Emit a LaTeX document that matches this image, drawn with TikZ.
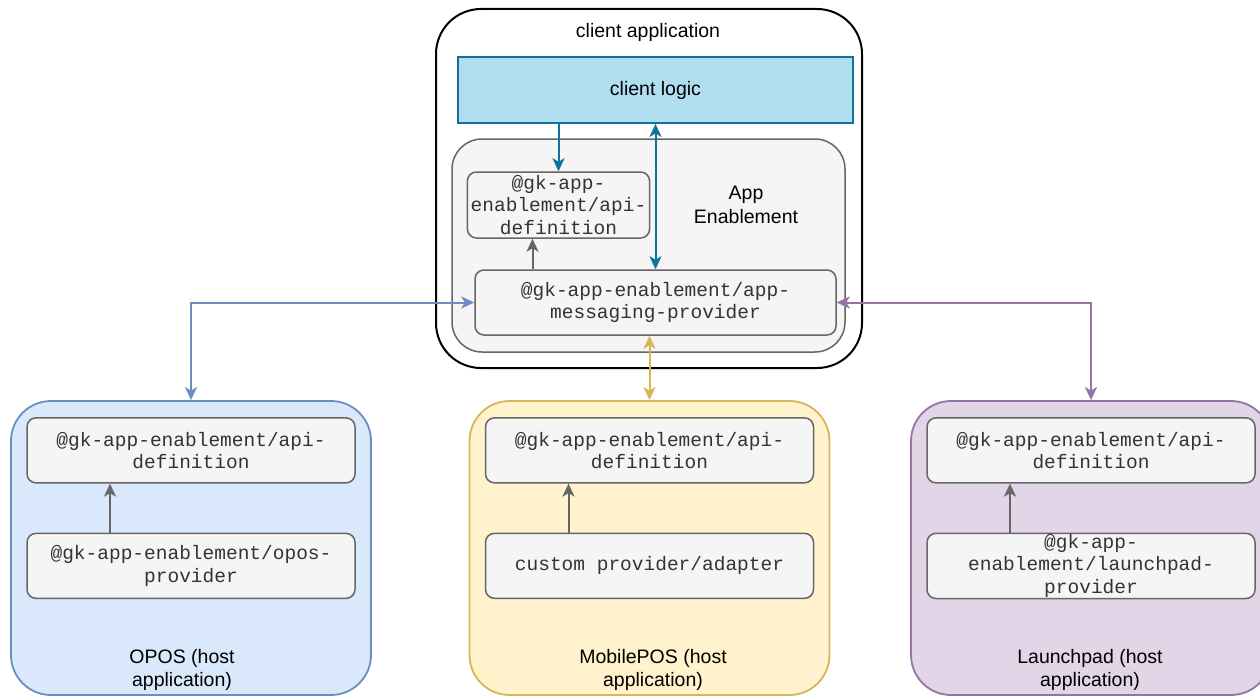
\documentclass[tikz,border=0pt]{standalone}
\usepackage{fontspec}
\setmainfont{Liberation Sans}
\setmonofont{Liberation Mono}
\usepackage{tikz}
\usetikzlibrary{calc,positioning,arrows.meta}

\definecolor{logicfill}{HTML}{B1DDF0}
\definecolor{logicline}{HTML}{10739E}
\definecolor{greyfill}{HTML}{F5F5F5}
\definecolor{greyline}{HTML}{666666}
\definecolor{monotext}{HTML}{333333}
\definecolor{oposfill}{HTML}{DAE8FC}
\definecolor{oposline}{HTML}{6C8EBF}
\definecolor{mposfill}{HTML}{FFF2CC}
\definecolor{mposline}{HTML}{D6B656}
\definecolor{lpadfill}{HTML}{E1D5E7}
\definecolor{lpadline}{HTML}{9673A6}

\begin{document}
\begin{tikzpicture}[x=1pt, y=-1pt,
        font=\fontsize{19.5}{23.5}\selectfont,
        >={Stealth[length=13pt,width=12pt,inset=3.5pt]},
        apibox/.style={rectangle, rounded corners=9pt, draw=greyline, fill=greyfill, line width=1.5pt,
            minimum width=328pt, minimum height=65pt, inner ysep=1pt, align=center, text=monotext,
            font=\ttfamily\fontsize{19.5}{22.5}\selectfont},
        hostbox/.style={rectangle, rounded corners=40pt, line width=1.8pt,
            minimum width=360pt, minimum height=294pt},
        link/.style={<->, line width=2pt},
        garrow/.style={->, line width=2pt, draw=greyline}]
        \useasboundingbox (0,0) rectangle (1260,698);
        \clip (0,0) rectangle (1260,698);

        % Client application
        \node[rectangle, rounded corners=45pt, draw=black, fill=white, line width=2pt,
            minimum width=426pt, minimum height=359pt] (CA) at (649,188.5) {};
        \node (CAtitle) at (648,32) {client application};
        \node[rectangle, draw=logicline, fill=logicfill, line width=1.8pt,
            minimum width=395pt, minimum height=66pt] (CL) at (655.5,90) {client logic};

        % App Enablement
        \node[rectangle, rounded corners=30pt, draw=greyline, fill=greyfill, line width=1.5pt,
            minimum width=393pt, minimum height=213pt] (AE) at (648.5,245.5) {};
        \node[align=center] (AEtitle) at (746,205) {App\\Enablement};
        \node[apibox, minimum width=181pt, minimum height=66pt] (A0) at (558.5,205)
            {@gk-app-\\enablement/api-\\definition};
        \node[apibox, minimum width=361pt] (M) at (655.5,302.5)
            {@gk-app-enablement/app-\\messaging-provider};

        % Host applications
        \foreach \n/\cx/\lx/\fc/\dc/\txt in {1/191/182/oposfill/oposline/OPOS,
                2/649.5/653/mposfill/mposline/MobilePOS,
                3/1091/1090/lpadfill/lpadline/Launchpad} {
            \node[hostbox, fill=\fc, draw=\dc] (H\n) at (\cx,548) {};
            \node[apibox, below=17pt of H\n.north] (A\n) {@gk-app-enablement/api-\\definition};
            \node[align=center] (L\n) at (\lx,670) {\txt{} (host\\application)};
        }
        \node[apibox, below=49pt of A1] (P1) {@gk-app-enablement/opos-\\provider};
        \node[apibox, below=49pt of A2] (P2) {custom provider/adapter};
        \node[apibox, below=49pt of A3] (P3) {@gk-app-\\enablement/launchpad-\\provider};

        % Connections
        \draw[->, line width=2pt, draw=logicline] (A0.north |- CL.south) -- (A0.north);
        \draw[link, draw=logicline] (CL.south) -- (M.north);
        \coordinate (g0) at ([xshift=-26pt]A0.south);
        \draw[garrow] (g0 |- M.north) -- (g0);

        \foreach \n in {1,2,3} {
            \coordinate (g\n) at ([xshift=-81pt]A\n.south);
            \draw[garrow] (g\n |- P\n.north) -- (g\n);
        }

        \draw[link, draw=oposline] (M.west) -| (H1.north);
        \draw[link, draw=lpadline] (M.east) -| (H3.north);
        \draw[link, draw=mposline] (H2.north |- M.south) -- (H2.north);
    \end{tikzpicture}
\end{document}
